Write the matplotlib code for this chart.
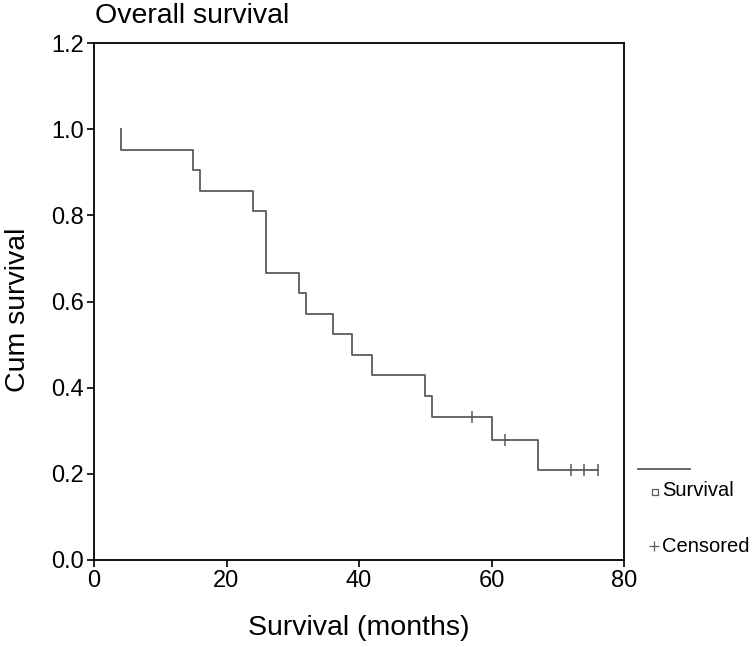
import matplotlib.pyplot as plt
from matplotlib.lines import Line2D

plt.rcParams['font.family'] = ['Liberation Sans', 'DejaVu Sans']

# Kaplan-Meier steps
step_times = [4, 4, 15, 16, 24, 26, 31, 32, 36, 39, 42, 50, 51, 60, 67, 76]
step_surv = [1.0, 0.952, 0.905, 0.857, 0.810, 0.667, 0.619, 0.571, 0.524,
             0.476, 0.429, 0.381, 0.333, 0.278, 0.208, 0.208]

# censored observations
cens_times = [57, 62, 72, 74, 76]
cens_surv = [0.333, 0.278, 0.208, 0.208, 0.208]

line_col = '#5a5a5a'

fig = plt.figure(figsize=(7.52, 6.47), dpi=100)
ax = fig.add_axes([94 / 752, 87 / 647, 530 / 752, 517 / 647])

ax.step(step_times, step_surv, where='post', color=line_col, linewidth=1.3)
ax.plot(cens_times, cens_surv, linestyle='none', marker='|', markersize=9,
        markeredgewidth=1.1, color=line_col)

ax.set_xlim(0, 80)
ax.set_ylim(0, 1.2)
ax.set_xticks([0, 20, 40, 60, 80])
ax.set_yticks([0.0, 0.2, 0.4, 0.6, 0.8, 1.0, 1.2])
ax.set_yticklabels(['0.0', '0.2', '0.4', '0.6', '0.8', '1.0', '1.2'])
ax.tick_params(direction='out', length=5, width=1.2, labelsize=17, pad=2)
for s in ax.spines.values():
    s.set_linewidth(1.3)

fig.text(359 / 752, 1 - 628 / 647, 'Survival (months)', fontsize=20.5,
         ha='center', va='center')
fig.text(18 / 752, 1 - 310 / 647, 'Cum survival', fontsize=20.5,
         ha='center', va='center', rotation=90)
fig.text(95 / 752, 1 - 16 / 647, 'Overall survival', fontsize=20.5,
         ha='left', va='center')

# legend drawn by hand to the right of the plot
fig.add_artist(Line2D([638 / 752, 690 / 752], [1 - 469 / 647, 1 - 469 / 647],
                      color=line_col, linewidth=1.3))
fig.add_artist(Line2D([655 / 752], [1 - 492 / 647], marker='s', markersize=5,
                      markerfacecolor='white', markeredgecolor=line_col,
                      markeredgewidth=0.9, linestyle='none'))
fig.text(662 / 752, 1 - 491 / 647, 'Survival', fontsize=14.5, ha='left', va='center')
fig.add_artist(Line2D([654 / 752], [1 - 546 / 647], marker='+', markersize=7,
                      color=line_col, markeredgewidth=0.9, linestyle='none'))
fig.text(662 / 752, 1 - 546 / 647, 'Censored', fontsize=14.5, ha='left', va='center')

fig.savefig('out.png', dpi=100)
